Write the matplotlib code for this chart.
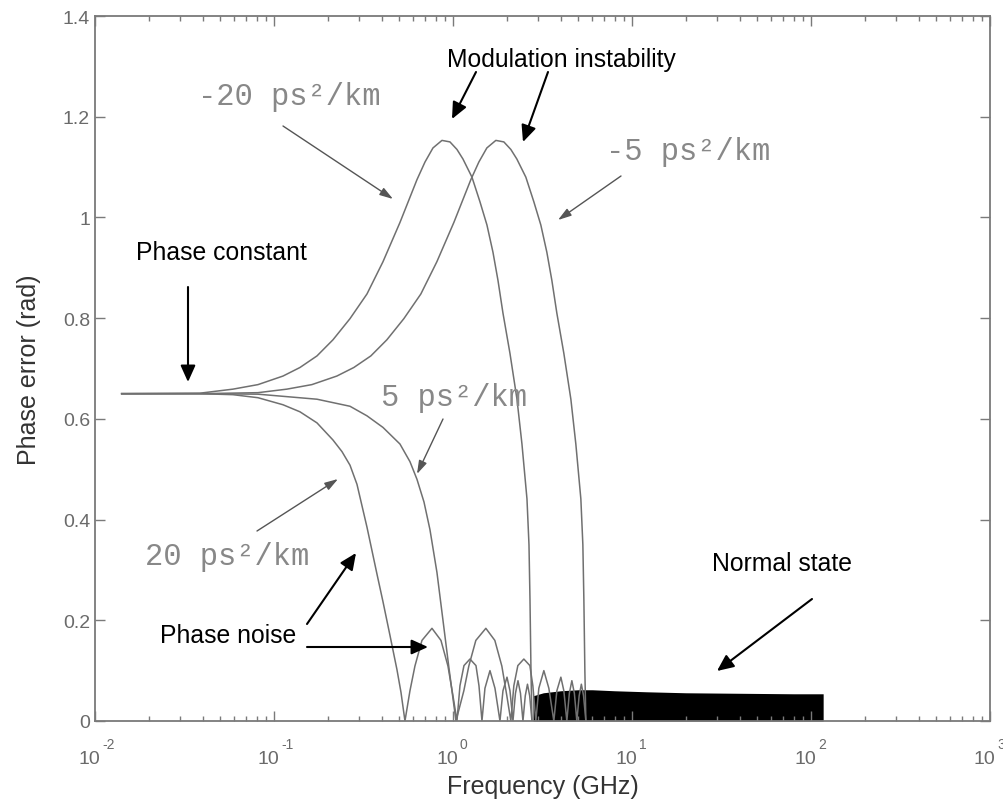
import matplotlib.pyplot as plt
from matplotlib.ticker import FuncFormatter, LogLocator, NullFormatter

plt.rcParams["font.family"] = ["Liberation Sans", "DejaVu Sans"]

# values: frequency (GHz) -> phase error (rad)
neg20_f = [0.0141, 0.0386, 0.0590, 0.0814, 0.1123, 0.1397, 0.1739, 0.2136, 0.2659, 0.3308,
           0.4064, 0.5057, 0.5751, 0.6293, 0.6976, 0.7731, 0.8680, 0.9621, 1.0528, 1.1373,
           1.2768, 1.4155, 1.5483, 1.6727, 1.7843, 1.9025, 2.0820, 2.2785, 2.4290, 2.5910,
           2.6588, 2.6932, 2.7280, 2.7634]
neg20_v = [0.650, 0.651, 0.659, 0.668, 0.685, 0.702, 0.725, 0.757, 0.799, 0.848,
           0.912, 0.990, 1.040, 1.075, 1.110, 1.138, 1.153, 1.150, 1.135, 1.116,
           1.080, 1.031, 0.985, 0.931, 0.875, 0.810, 0.730, 0.639, 0.550, 0.441,
           0.350, 0.242, 0.100, 0.0]

neg5_f = [0.0141, 0.0386, 0.0814, 0.1180, 0.1628, 0.2245, 0.2794, 0.3477, 0.4273, 0.5317,
          0.6616, 0.8129, 1.0115, 1.1502, 1.2585, 1.3951, 1.5463, 1.7359, 1.9243, 2.1056,
          2.2746, 2.5536, 2.8310, 3.0966, 3.3454, 3.5686, 3.8050, 4.1640, 4.5570, 4.8580,
          5.1820, 5.3176, 5.3864, 5.4560, 5.5268]
neg5_v = [0.650, 0.650, 0.652, 0.659, 0.668, 0.685, 0.702, 0.725, 0.757, 0.799,
          0.848, 0.912, 0.990, 1.040, 1.075, 1.110, 1.138, 1.153, 1.150, 1.135,
          1.116, 1.080, 1.031, 0.985, 0.931, 0.875, 0.810, 0.730, 0.639, 0.550,
          0.441, 0.350, 0.242, 0.100, 0.0]

pos20_f = [0.0141, 0.0386, 0.0590, 0.0814, 0.1123, 0.1397, 0.1739, 0.2136, 0.2398, 0.2659,
           0.2909, 0.3308, 0.3761, 0.4064, 0.4447, 0.4865, 0.5123, 0.5393,
           0.5751, 0.6130, 0.6710, 0.7633, 0.8569, 0.9377, 1.0, 1.0528,
           1.0942, 1.1520, 1.2444, 1.3445, 1.3974, 1.4521,
           1.5091, 1.6097, 1.7165, 1.8305,
           1.9025, 2.0036, 2.0820, 2.1636,
           2.2345, 2.3079, 2.3834, 2.4604,
           2.5349, 2.6077, 2.6828, 2.7634]
pos20_v = [0.650, 0.650, 0.648, 0.642, 0.628, 0.614, 0.592, 0.558, 0.535, 0.508,
           0.470, 0.385, 0.292, 0.237, 0.170, 0.102, 0.057, 0.0,
           0.06, 0.109, 0.16, 0.184, 0.16, 0.109, 0.05, 0.0,
           0.07, 0.11, 0.123, 0.11, 0.07, 0.0,
           0.065, 0.10, 0.065, 0.0,
           0.06, 0.087, 0.06, 0.0,
           0.055, 0.08, 0.055, 0.0,
           0.05, 0.073, 0.05, 0.0]

pos5_f = [0.0141, 0.0386, 0.0814, 0.1739, 0.2659, 0.3308, 0.4064, 0.5057, 0.5751, 0.6293,
          0.6887, 0.7438, 0.8138, 0.8794, 0.9498, 1.0, 1.0393,
          1.1502, 1.2260, 1.3420, 1.5266, 1.7138, 1.8754, 2.0, 2.1056,
          2.1884, 2.3040, 2.4888, 2.6890, 2.7948, 2.9042,
          3.0182, 3.2194, 3.4330, 3.6610,
          3.8050, 4.0072, 4.1640, 4.3272,
          4.4690, 4.6158, 4.7668, 4.9208,
          5.0698, 5.2154, 5.3656, 5.5268]
pos5_v = [0.650, 0.650, 0.649, 0.639, 0.625, 0.606, 0.583, 0.550, 0.515, 0.480,
          0.435, 0.380, 0.295, 0.200, 0.105, 0.045, 0.0,
          0.06, 0.109, 0.16, 0.184, 0.16, 0.109, 0.05, 0.0,
          0.07, 0.11, 0.123, 0.11, 0.07, 0.0,
          0.065, 0.10, 0.065, 0.0,
          0.06, 0.087, 0.06, 0.0,
          0.055, 0.08, 0.055, 0.0,
          0.05, 0.073, 0.05, 0.0]

# dense fast oscillation ("normal state") seen as a solid band
band_f = [2.8, 3.2, 4.0, 5.0, 6.0, 8.0, 12.0, 20.0, 40.0, 80.0, 117.0]
band_top = [0.05, 0.056, 0.06, 0.062, 0.062, 0.06, 0.058, 0.056, 0.055, 0.054, 0.054]

decades = [-2, -1, 0, 1, 2, 3]

LINE = "#707070"
AX = "#7a7a7a"
TICKTXT = "#6a6a6a"

fig = plt.figure(figsize=(10.04, 8.03), dpi=100)
ax = fig.add_axes([0.0946, 0.1009, 0.8914, 0.8779])

ax.fill_between(band_f, 0, band_top, color="black", lw=0)
for f, v in [(neg20_f, neg20_v), (neg5_f, neg5_v), (pos20_f, pos20_v), (pos5_f, pos5_v)]:
    ax.plot(f, v, color=LINE, lw=1.1)

ax.set_xscale("log")
ax.set_xlim(1e-2, 1e3)
ax.set_ylim(0, 1.4)
ax.set_yticks([0, 0.2, 0.4, 0.6, 0.8, 1.0, 1.2, 1.4])
ax.yaxis.set_major_formatter(FuncFormatter(lambda v, _: f"{v:g}"))
ax.xaxis.set_major_locator(LogLocator(base=10, numticks=10))
ax.xaxis.set_minor_locator(LogLocator(base=10, subs=range(2, 10), numticks=20))
ax.xaxis.set_minor_formatter(NullFormatter())
ax.tick_params(which="both", direction="in", top=True, right=True, colors=AX,
               labelcolor=TICKTXT, labelsize=14)
ax.tick_params(which="major", length=7, width=1)
ax.tick_params(which="minor", length=3.5, width=1)
ax.tick_params(axis="x", labelbottom=False)
for s in ax.spines.values():
    s.set_color(AX)
    s.set_linewidth(1.3)

# decade labels drawn as "10" plus a raised exponent, like the original
for e in decades:
    ax.annotate("10", xy=(10.0 ** e, 0), xycoords=("data", "axes fraction"),
                xytext=(5, -38), textcoords="offset pixels", ha="right", va="center",
                fontsize=14, color=TICKTXT)
    ax.annotate(str(e), xy=(10.0 ** e, 0), xycoords=("data", "axes fraction"),
                xytext=(7, -23), textcoords="offset pixels", ha="left", va="center",
                fontsize=10, color=TICKTXT)

ax.set_xlabel("Frequency (GHz)", fontsize=18, color="#333333", labelpad=35)
ax.set_ylabel("Phase error (rad)", fontsize=18, color="#333333", labelpad=16)

# grey dispersion labels with thin arrows
mono = dict(family=["Liberation Mono", "DejaVu Sans Mono"], color="#888888", fontsize=22)
thin = dict(arrowstyle="-|>,head_length=0.8,head_width=0.25", color="#555555", lw=1.0,
            shrinkA=0, shrinkB=0)


def px(x, y):
    return (x / 1004, 1 - y / 803)


ax.text(*px(198, 97), "-20 ps\u00b2/km", transform=fig.transFigure, va="center", **mono)
ax.text(*px(606, 152), "-5 ps\u00b2/km", transform=fig.transFigure, va="center", **mono)
ax.text(*px(381, 398), "5 ps\u00b2/km", transform=fig.transFigure, va="center", **mono)
ax.text(*px(145, 557), "20 ps\u00b2/km", transform=fig.transFigure, va="center", **mono)

for (x0, y0), (x1, y1) in [((283, 127), (393, 200)), ((621, 177), (558, 221)),
                           ((443, 420), (417, 475)), ((257, 532), (338, 480))]:
    ax.annotate("", xy=px(x1, y1), xytext=px(x0, y0), xycoords="figure fraction",
                textcoords="figure fraction", arrowprops=thin)

# black annotations
thick = dict(arrowstyle="-|>,head_length=1.0,head_width=0.45", color="black", lw=1.5,
             shrinkA=0, shrinkB=0)
txt = dict(color="black", fontsize=17.8, va="center", ha="left", transform=fig.transFigure)
ax.text(*px(447, 60), "Modulation instability", **txt)
ax.text(*px(136, 253), "Phase constant", **txt)
ax.text(*px(160, 636), "Phase noise", **txt)
ax.text(*px(712, 564), "Normal state", **txt)

for (x0, y0), (x1, y1) in [((476, 73), (452, 120)), ((548, 73), (523, 143)),
                           ((188, 288), (188, 383)), ((307, 625), (356, 554)),
                           ((307, 648), (428, 648)), ((812, 600), (717, 672))]:
    ax.annotate("", xy=px(x1, y1), xytext=px(x0, y0), xycoords="figure fraction",
                textcoords="figure fraction", arrowprops=thick)

fig.savefig("out.png", dpi=100)
